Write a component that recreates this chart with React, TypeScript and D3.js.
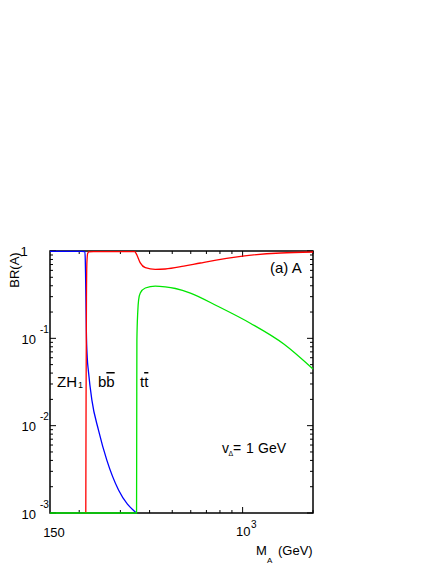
import React from "react";
import * as d3 from "d3";

// BR(A) vs M_A (mass in GeV, branching ratio)
const bbMass = [150, 180, 205, 211.5, 212.3, 212.9, 213.6, 214.6, 216.5, 219, 226.5, 241.8, 262.7, 294.6, 351];
const bbBR = [0.99, 0.99, 0.99, 0.985, 0.8, 0.55, 0.3, 0.12, 0.06, 0.042, 0.0197, 0.0089, 0.004, 0.00183, 0.001];

const zhMass = [213.4, 214, 214.8, 215.8, 217.5, 220, 230, 300, 346, 348.5, 353, 365, 383.5, 423, 467, 560, 660, 1000, 1455, 2000];
const zhBR = [0.001, 0.02, 0.3, 0.75, 0.94, 0.975, 0.985, 0.985, 0.985, 0.96, 0.9, 0.73, 0.644, 0.617, 0.622, 0.67, 0.729, 0.876, 0.949, 0.974];

const ttMass = [150, 250, 351.8, 352.4, 353, 356, 359, 365, 383.5, 423, 467, 516, 598, 779, 1083, 1500, 2000];
const ttBR = [0.001, 0.001, 0.001, 0.01, 0.096, 0.2, 0.275, 0.33, 0.377, 0.397, 0.389, 0.372, 0.33, 0.2345, 0.148, 0.0861, 0.0445];

const yMajor = [0.001, 0.01, 0.1, 1];
const yExp = ["-3", "-2", "-1"];
const xMinor = [200, 300, 400, 500, 600, 700, 800, 900, 2000];
const xMajor = [1000];

const L = 50, R = 313, T = 251, B = 513;
const font = "'Liberation Sans', Arial, sans-serif";

export default function App() {
  const x = d3.scaleLog().domain([150, 2000]).range([L, R]);
  const y = d3.scaleLog().domain([0.001, 1]).range([B, T]);

  const line = (ms: number[], vs: number[]) =>
    d3.line<number>()
      .x((_, i) => x(ms[i]))
      .y((v) => y(Math.max(0.001, Math.min(1, v))))
      .curve(d3.curveMonotoneX)(vs) || "";

  const yMinor: number[] = [];
  [0.001, 0.01, 0.1].forEach((d) => {
    for (let k = 2; k <= 9; k++) yMinor.push(d * k);
  });

  const ticks: JSX.Element[] = [];
  yMajor.forEach((v, i) => {
    ticks.push(<line key={"yl" + i} x1={L} x2={L + 6} y1={y(v)} y2={y(v)} />);
    ticks.push(<line key={"yr" + i} x1={R} x2={R - 6} y1={y(v)} y2={y(v)} />);
  });
  yMinor.forEach((v, i) => {
    ticks.push(<line key={"yml" + i} x1={L} x2={L + 3} y1={y(v)} y2={y(v)} />);
    ticks.push(<line key={"ymr" + i} x1={R} x2={R - 3} y1={y(v)} y2={y(v)} />);
  });
  xMinor.forEach((v, i) => {
    ticks.push(<line key={"xb" + i} x1={x(v)} x2={x(v)} y1={B} y2={B - 3} />);
    ticks.push(<line key={"xt" + i} x1={x(v)} x2={x(v)} y1={T} y2={T + 3} />);
  });
  xMajor.forEach((v, i) => {
    ticks.push(<line key={"xB" + i} x1={x(v)} x2={x(v)} y1={B} y2={B - 6} />);
    ticks.push(<line key={"xT" + i} x1={x(v)} x2={x(v)} y1={T} y2={T + 6} />);
  });

  return (
    <svg width={436} height={564} style={{ position: "absolute", left: 0, top: 0, background: "white" }}
      fontFamily={font}>
      <defs>
        <clipPath id="plot">
          <rect x={L - 1} y={T - 1} width={R - L + 2} height={B - T + 2} />
        </clipPath>
      </defs>
      <rect x={L} y={T} width={R - L} height={B - T} fill="none" stroke="#000" strokeWidth={1.5} />
      <g stroke="#000" strokeWidth={1}>{ticks}</g>
      <g clipPath="url(#plot)" fill="none" strokeWidth={1.3}>
        <path d={line(bbMass, bbBR)} stroke="#0000ff" />
        <path d={line(zhMass, zhBR)} stroke="#ff0000" />
        <path d={line(ttMass, ttBR)} stroke="#00e600" />
      </g>

      <g fontSize={13} fill="#000">
        <text x={24} y={y(1) + 5} textAnchor="middle">1</text>
        {yMajor.slice(0, 3).map((v, i) => (
          <g key={"lab" + i}>
            <text x={21.5} y={y(v) + 5.5}>10</text>
            <text x={40} y={y(v) - 5.5} fontSize={10}>{yExp[i]}</text>
          </g>
        ))}
        <text x={54} y={537} textAnchor="middle">150</text>
        <text x={236} y={536}>10</text>
        <text x={251} y={528} fontSize={10}>3</text>
        <text x={256} y={555}>M</text>
        <text x={267} y={563} fontSize={8}>A</text>
        <text x={278} y={555}>(GeV)</text>
        <text transform="translate(19,270) rotate(-90)" textAnchor="middle">BR(A)</text>

        <g fontSize={15}>
          <text x={270} y={273}>(a) A</text>
          <text x={57} y={387}>ZH</text>
          <text x={78} y={388} fontSize={9}>1</text>
          <text x={98} y={387}>b<tspan textDecoration="overline">b</tspan></text>
          <text x={140} y={387}>t<tspan textDecoration="overline">t</tspan></text>
        </g>
        <g fontSize={14}>
          <text x={222} y={453}>v</text>
          <text x={228.5} y={456} fontSize={7}>Δ</text>
          <text x={233} y={453}>=</text>
          <text x={246} y={453}>1</text>
          <text x={258} y={453}>GeV</text>
        </g>
      </g>
    </svg>
  );
}
